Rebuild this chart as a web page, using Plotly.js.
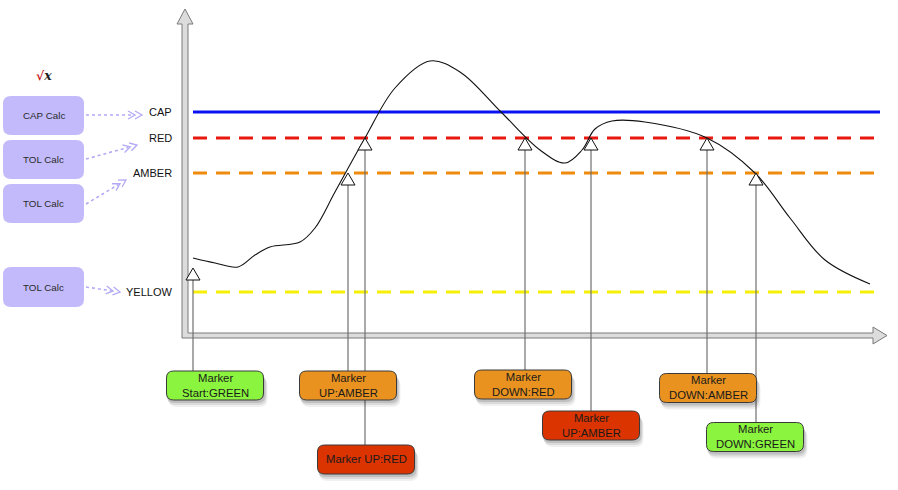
<!DOCTYPE html>
<html><head><meta charset="utf-8">
<script src="https://cdn.plot.ly/plotly-3.0.1.min.js"></script>
<style>html,body{margin:0;padding:0;background:#fff}#chart{width:898px;height:490px}</style>
</head><body><div id="chart"></div>
<script>
// ---- DATA (time from axis origin, level above the time axis) ----
const curveTime  = [11,33,56,73,88,118,133,153,183,213,248,278,319,358,383,400,413,430,463,525,573,608,643,688];
const curveLevel = [77,72,68,80,88,93,107,143,197,247,274,263,223,185,172,185,206,214,213,197,162,117,75,51];

const thresholdNames  = ['CAP','RED','AMBER','YELLOW'];
const thresholdLevels = [223,197,162,43];
const thresholdStart  = 11;
const thresholdEnd    = 698;

const eventTime   = [11,166,183,343,409,525,574];
const eventLevel  = [67,162,197,197,197,197,162];
const eventLine1  = ['Marker','Marker','Marker UP:RED','Marker','Marker','Marker','Marker'];
const eventLine2  = ['Start:GREEN','UP:AMBER','','DOWN:RED','UP:AMBER','DOWN:AMBER','DOWN:GREEN'];
const eventState  = ['GREEN','AMBER','RED','AMBER','RED','AMBER','GREEN'];

const calcNames   = ['CAP Calc','TOL Calc','TOL Calc','TOL Calc'];

// ---- STYLE / LAYOUT ----
const X = px => px - 182;          // pixel -> data
const Y = py => 335 - py;
const FONT = 'Liberation Sans, Arial, Helvetica, sans-serif';
const thresholdColors = ['#0b12f2','#e8180e','#ee8b0c','#f6ef08'];
const thresholdDash   = ['solid','14px,9px','14px,9px','14px,9px'];
const stateColors = {GREEN:'#8af43e', AMBER:'#e9921f', RED:'#dc3400'};
const boxShiftX   = [22,0,1,-2,0,1,-1];
const boxCenterPy = [385.5,385.5,459.5,384.5,425.5,388,437];
const BW = 97, BH = 29;
const calcBoxesPy = [[96,135],[140,179],[184,223],[267,307]];
const calcArrowsPx = [[86,115,142,115],[86,159,137,145],[86,204,126,180],[86,287,120,292]];

function rr(x0,y0,x1,y1,r){ // pixel coords, returns data path
  const p = (x,y)=> X(x)+','+Y(y);
  return 'M'+p(x0+r,y0)+' L'+p(x1-r,y0)+' Q'+p(x1,y0)+' '+p(x1,y0+r)+
         ' L'+p(x1,y1-r)+' Q'+p(x1,y1)+' '+p(x1-r,y1)+
         ' L'+p(x0+r,y1)+' Q'+p(x0,y1)+' '+p(x0,y1-r)+
         ' L'+p(x0,y0+r)+' Q'+p(x0,y0)+' '+p(x0+r,y0)+' Z';
}

const shapes = [];
const annotations = [];

// axis arrows (pixel outline)
const axisPts = [[182,338],[182,24],[177,24],[185,9],[193,24],[188,24],[188,333],[873,333],[873,327],[887,335.5],[873,344],[873,338]];
shapes.push({type:'path', xref:'x', yref:'y', layer:'below',
  path:'M'+axisPts.map(p=>X(p[0])+','+Y(p[1])).join(' L')+' Z',
  fillcolor:'#dcdcdc', line:{color:'#7a7a7a', width:1}});

// left calc boxes + dotted arrows
calcNames.forEach((n,i)=>{
  const [y0,y1] = calcBoxesPy[i];
  shapes.push({type:'path', xref:'x', yref:'y', path: rr(3,y0,84,y1,8),
    fillcolor:'#c2bafa', line:{width:0}});
  annotations.push({x:X(43.5), y:Y((y0+y1)/2), xref:'x', yref:'y', text:n, showarrow:false,
    font:{family:FONT, size:9.8, color:'#2a2a2a'}});
  const [ax0,ay0,ax1,ay1] = calcArrowsPx[i];
  const L = Math.hypot(ax1-ax0, ay1-ay0), ux=(ax1-ax0)/L, uy=(ay1-ay0)/L, nx=-uy, ny=ux;
  shapes.push({type:'line', xref:'x', yref:'y', x0:X(ax0), y0:Y(ay0), x1:X(ax1-9*ux), y1:Y(ay1-9*uy),
    line:{color:'#b3a9f6', width:1.6, dash:'dot'}});
  [0,7].forEach(b=>{
    const tx = ax1-b*ux, ty = ay1-b*uy;
    const a = [tx-7*ux+4*nx, ty-7*uy+4*ny], c = [tx-7*ux-4*nx, ty-7*uy-4*ny];
    shapes.push({type:'path', xref:'x', yref:'y',
      path:'M'+X(a[0])+','+Y(a[1])+' L'+X(tx)+','+Y(ty)+' L'+X(c[0])+','+Y(c[1]),
      line:{color:'#b3a9f6', width:1.3}});
  });
});

// threshold labels
thresholdNames.forEach((n,i)=>{
  annotations.push({x:X(174), y:thresholdLevels[i], xref:'x', yref:'y', text:n, showarrow:false,
    xanchor:'right', yanchor:'middle', font:{family:FONT, size:11, color:'#111'}});
});

// sqrt icon
annotations.push({x:X(44), y:Y(75), xref:'x', yref:'y', showarrow:false,
  text:'<b><span style="color:#c41a1a">√</span><i>x</i></b>', font:{family:'DejaVu Serif, serif', size:12.5, color:'#222'}});

// event stems
eventTime.forEach((t,i)=>{
  const cy = boxCenterPy[i];
  shapes.push({type:'line', xref:'x', yref:'y', x0:t, x1:t, y0:eventLevel[i]-12, y1:Y(cy-BH/2),
    line:{color:'#707070', width:1.2}});
});
// event boxes
eventTime.forEach((t,i)=>{
  const cx = t+182+boxShiftX[i], cy = boxCenterPy[i];
  const x0=cx-BW/2, x1=cx+BW/2, y0=cy-BH/2, y1=cy+BH/2;
  [[3,7,0.06],[2,5,0.09],[1,3,0.12]].forEach(s=>{
    shapes.push({type:'path', xref:'x', yref:'y', path: rr(x0+s[0]-1,y0+s[1],x1+s[0]+1,y1+s[1],8),
      fillcolor:'rgba(0,0,0,'+s[2]+')', line:{width:0}});
  });
  shapes.push({type:'path', xref:'x', yref:'y', path: rr(x0,y0,x1,y1,7),
    fillcolor:stateColors[eventState[i]], line:{color:'#3a3a3a', width:1}});
  const txt = eventLine2[i] ? eventLine1[i]+'<br>'+eventLine2[i] : eventLine1[i];
  annotations.push({x:X(cx), y:Y(cy-0.5), xref:'x', yref:'y', text:txt, showarrow:false,
    font:{family:FONT, size:11.3, color:'#1a1a1a'}});
});
// triangles
eventTime.forEach((t,i)=>{
  const v = eventLevel[i];
  shapes.push({type:'path', xref:'x', yref:'y',
    path:'M'+t+','+v+' L'+(t-7)+','+(v-12)+' L'+(t+7)+','+(v-12)+' Z',
    fillcolor:'#ffffff', line:{color:'#111', width:1}});
});

const traces = thresholdNames.map((n,i)=>({
  x:[thresholdStart, thresholdEnd], y:[thresholdLevels[i], thresholdLevels[i]],
  mode:'lines', name:n, line:{color:thresholdColors[i], width:3, dash:thresholdDash[i]},
  hoverinfo:'skip'
}));
traces.push({x:curveTime, y:curveLevel, mode:'lines', name:'signal',
  line:{color:'#111', width:1.1, shape:'spline', smoothing:1}, hoverinfo:'skip'});

const layout = {
  width:898, height:490, margin:{l:0,r:0,t:0,b:0},
  paper_bgcolor:'#fff', plot_bgcolor:'#fff', showlegend:false,
  xaxis:{range:[X(0),X(898)], visible:false, fixedrange:true},
  yaxis:{range:[Y(490),Y(0)], visible:false, fixedrange:true},
  shapes, annotations
};
Plotly.newPlot('chart', traces, layout, {displayModeBar:false, staticPlot:true});
</script></body></html>
